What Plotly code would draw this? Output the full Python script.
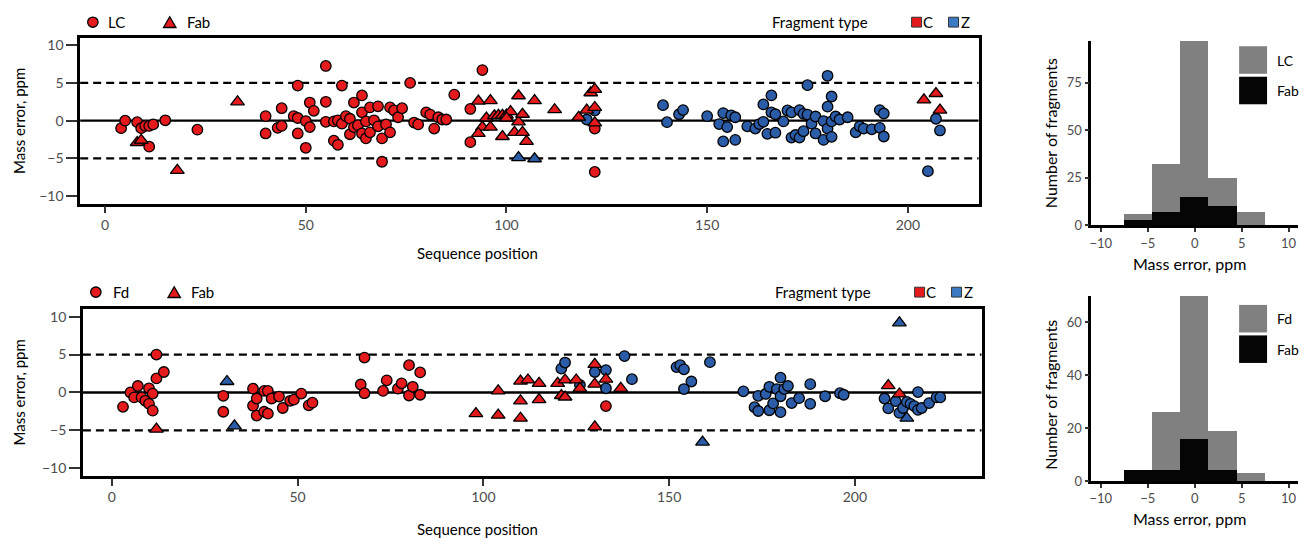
import plotly.graph_objects as go

W, H = 1310, 547
RED = "#E41A1C"
BLUE = "#2B5CA8"
BLUE_KEY = "#3B7BC4"
FONT = "Lato, 'Noto Sans', sans-serif"
TICKGREY = "#4d4d4d"

# ---------------- data: top panel (LC / Fab) ----------------
lc_c_pos = [4, 5, 8, 9, 10, 11, 12, 11, 15, 23, 40, 40, 43, 44, 44, 47, 48, 48, 48, 50, 50, 51, 51, 52,
            55, 55, 55, 57, 58, 57, 58, 59, 59, 60, 61, 61, 62, 62, 63, 64, 64, 64, 65, 65, 66, 66, 67,
            68, 68, 69, 69, 70, 71, 71, 72, 73, 74, 76, 77, 78, 80, 81, 82, 83, 84, 85, 87, 91, 91, 94,
            122, 122]
lc_c_err = [-1.0, 0.0, -0.2, -1.0, -0.7, -0.7, -0.5, -3.45, 0.05, -1.2, 0.6, -1.7, -0.95, -0.7, 1.65,
            0.6, 4.65, 0.35, -1.7, -0.05, -3.6, -0.85, 2.4, 1.3, 7.25, 2.5, -0.15, -2.65, -3.2, -0.1,
            0.05, 4.65, -0.4, 0.6, 0.25, -1.8, 2.4, -0.85, -0.6, 3.35, 1.1, -1.7, -0.1, -2.35, 1.75,
            -1.55, 0.05, 1.9, -0.75, -2.35, -5.45, -0.5, 1.75, -1.55, 1.35, 0.45, 1.65, 5.0, -0.25,
            -0.5, 1.1, 0.8, -1.05, 0.45, 0.15, 0.15, 3.45, 1.55, -2.85, 6.7, -1.05, -6.8]

lc_z_pos = [120, 122, 139, 140, 143, 144, 150, 153, 154, 154, 155, 156, 157, 157, 160, 162, 163, 164,
            164, 165, 166, 166, 167, 167, 169, 170, 171, 171, 172, 173, 173, 174, 174, 175, 175, 176,
            177, 177, 179, 179, 180, 180, 180, 181, 181, 181, 182, 183, 185, 187, 188, 189, 191, 193,
            194, 193, 194, 205, 207, 208]
lc_z_err = [0.15, 1.35, 2.05, -0.2, 0.85, 1.4, 0.6, -0.45, 1.0, -2.75, -0.85, 0.7, 0.45, -2.55, -0.75,
            -1.05, -0.45, -0.15, 2.15, -1.75, 3.35, 1.1, -1.6, 0.85, -0.1, 1.35, 1.1, -2.25, -1.9,
            -2.25, 1.4, -1.4, 0.9, 4.7, 0.8, -0.4, 0.55, -1.7, -0.05, -2.55, 1.85, -1.05, 5.95, 3.2,
            -0.1, -2.15, 0.55, 0.15, 0.45, -1.55, -0.75, -1.05, -1.15, 1.4, 0.95, -0.95, -2.1, -6.7,
            0.25, -1.3]

fab1_c_pos = [8, 9, 18, 33, 93, 96, 95, 94, 93, 96, 97, 98, 99, 100, 101, 100, 99, 103, 103, 102, 104,
              104, 105, 107, 112, 118, 120, 121, 122, 122, 122, 204, 207, 208]
fab1_c_err = [-2.9, -2.6, -6.6, 2.5, 2.6, 2.65, 0.35, -0.85, -1.7, -0.85, 0.65, 0.7, 0.7, 0.75, 1.2,
              0.35, -2.1, 3.3, -0.15, -1.55, 0.85, -1.55, -2.75, 2.65, 1.45, 0.45, 1.4, 3.7, 4.15,
              1.75, -0.3, 2.75, 3.6, 1.4]

fab1_z_pos = [103, 107]
fab1_z_err = [-4.9, -5.05]

# ---------------- data: bottom panel (Fd / Fab) ----------------
fd_c_pos = [3, 5, 6, 7, 8, 9, 10, 10, 11, 11, 12, 12, 14, 30, 30, 38, 38, 39, 39, 41, 42, 41, 42, 43,
            45, 46, 48, 49, 51, 53, 54, 67, 68, 68, 73, 74, 77, 78, 80, 80, 81, 83, 83, 133]
fd_c_err = [-1.9, 0.0, -0.65, 0.85, -0.65, -1.1, 0.55, -1.5, -0.15, -2.4, 5.0, 1.85, 2.7, -0.45, -2.55,
            0.5, -1.75, -0.8, -3.05, 0.2, 0.2, -2.55, -2.8, -0.8, -0.55, -2.05, -1.1, -0.95, -0.15,
            -1.7, -1.35, 1.05, 4.6, -0.1, 0.2, 1.6, 0.5, 1.2, 3.6, -0.4, 0.75, 2.65, -0.3, -1.8]

fd_z_pos = [121, 122, 126, 130, 133, 133, 138, 140, 152, 153, 154, 156, 154, 161, 170, 173, 174, 174,
            176, 177, 177, 178, 179, 180, 180, 180, 181, 182, 183, 185, 188, 188, 192, 196, 197, 208,
            209, 211, 212, 213, 214, 215, 216, 217, 218, 217, 220, 222, 223]
fd_z_err = [3.15, 3.95, 1.0, 2.7, 2.95, 0.55, 4.8, 1.75, 3.35, 3.6, 3.05, 1.45, 0.45, 4.0, 0.15, -1.95,
            -2.45, -0.45, -0.2, 0.75, -2.35, -1.45, 0.45, 1.95, -0.5, -2.6, 0.45, 0.85, -1.4, -0.75,
            1.1, -1.5, -0.5, -0.1, -0.3, -0.8, -2.1, -1.15, -2.7, -2.05, -1.25, -1.5, -1.8, -2.3,
            -2.05, 0.05, -1.4, -0.65, -0.65]

fab2_c_pos = [12, 98, 104, 104, 110, 112, 110, 110, 115, 115, 120, 121, 122, 122, 125, 126, 130, 130,
              130, 133, 137, 209, 212]
fab2_c_err = [-4.85, -2.8, 0.2, -3.0, 1.5, 1.65, -1.1, -3.4, 1.2, -0.95, 1.2, -0.4, 1.65, -0.6, 1.65,
              0.55, 3.7, 1.1, -4.55, 1.75, 0.55, 0.9, -0.2]

fab2_z_pos = [31, 33, 159, 212, 214]
fab2_z_err = [1.45, -4.4, -6.55, 9.2, -3.4]

# ---------------- data: histograms ----------------
bin_centers = [-6, -3, 0, 3, 6]
hist1_lc = [6, 32, 97, 25, 7]
hist1_fab = [3, 7, 15, 10, 0]
hist2_fd = [4, 26, 70, 19, 3]
hist2_fab = [4, 4, 16, 4, 0]

ytick_vals = [-10, -5, 0, 5, 10]
ytick_text = ["\u221210", "\u22125", "0", "5", "10"]
xtick_vals = [0, 50, 100, 150, 200]
htick_vals = [-10, -5, 0, 5, 10]
htick_text = ["\u221210", "\u22125", "0", "5", "10"]

fig = go.Figure()


def pts(xs, ys, color, symbol, xa, ya):
    size = 10.5 if symbol == "circle" else 12
    fig.add_trace(go.Scatter(
        x=xs, y=ys, mode="markers", xaxis=xa, yaxis=ya, showlegend=False,
        marker=dict(symbol=symbol, size=size, color=color, line=dict(color="black", width=1.3)),
        cliponaxis=False))


pts(lc_c_pos, lc_c_err, RED, "circle", "x", "y")
pts(lc_z_pos, lc_z_err, BLUE, "circle", "x", "y")
pts(fab1_c_pos, fab1_c_err, RED, "triangle-up", "x", "y")
pts(fab1_z_pos, fab1_z_err, BLUE, "triangle-up", "x", "y")

pts(fd_c_pos, fd_c_err, RED, "circle", "x2", "y2")
pts(fd_z_pos, fd_z_err, BLUE, "circle", "x2", "y2")
pts(fab2_c_pos, fab2_c_err, RED, "triangle-up", "x2", "y2")
pts(fab2_z_pos, fab2_z_err, BLUE, "triangle-up", "x2", "y2")

for counts, col, xa, ya in [(hist1_lc, "#808080", "x3", "y3"), (hist1_fab, "#050505", "x3", "y3"),
                            (hist2_fd, "#808080", "x4", "y4"), (hist2_fab, "#050505", "x4", "y4")]:
    fig.add_trace(go.Bar(x=bin_centers, y=counts, width=3, marker=dict(color=col, line=dict(width=0)),
                         opacity=1, xaxis=xa, yaxis=ya, showlegend=False))


def px(v):
    return v / W


def py(v):
    return 1 - v / H


scatter_x = dict(showline=True, mirror=True, linewidth=2.6, linecolor="black", ticks="outside",
                 ticklen=7, tickwidth=2, tickcolor="#333333", showgrid=False, zeroline=False,
                 tickvals=xtick_vals, tickfont=dict(family=FONT, size=14, color=TICKGREY))
scatter_y = dict(showline=True, mirror=True, linewidth=2.6, linecolor="black", ticks="outside",
                 ticklen=11, tickwidth=2, tickcolor="#333333", showgrid=False, zeroline=False,
                 range=[-11, 11], tickvals=ytick_vals, ticktext=ytick_text,
                 tickfont=dict(family=FONT, size=14, color=TICKGREY))
hist_x = dict(showline=True, linewidth=2.6, linecolor="black", ticks="outside", ticklen=4, tickwidth=1.5,
              tickcolor="#333333", showgrid=False, zeroline=False, range=[-11, 11],
              tickvals=htick_vals, ticktext=htick_text, tickfont=dict(family=FONT, size=13, color=TICKGREY))
hist_y = dict(showline=True, linewidth=2.6, linecolor="black", ticks="outside", ticklen=4, tickwidth=1.5,
              tickcolor="#333333", showgrid=False, zeroline=False,
              tickfont=dict(family=FONT, size=13, color=TICKGREY))

fig.update_layout(
    width=W, height=H, autosize=False, margin=dict(l=0, r=0, t=0, b=0),
    paper_bgcolor="white", plot_bgcolor="rgba(0,0,0,0)", barmode="overlay", bargap=0,
    font=dict(family=FONT, size=15, color="black"),
    xaxis=dict(scatter_x, domain=[px(78.3), px(978)], range=[-6.2, 217.6], anchor="y"),
    yaxis=dict(scatter_y, domain=[py(206), py(37.3)], anchor="x"),
    xaxis2=dict(scatter_x, domain=[px(81), px(981)], range=[-7.8, 234.1], anchor="y2"),
    yaxis2=dict(scatter_y, domain=[py(482.7), py(313.3)], anchor="x2"),
    xaxis3=dict(hist_x, domain=[px(1091), px(1298)], anchor="y3"),
    yaxis3=dict(hist_y, domain=[py(228), py(40.7)], range=[0, 97], tickvals=[0, 25, 50, 75], anchor="x3"),
    xaxis4=dict(hist_x, domain=[px(1091), px(1298)], anchor="y4"),
    yaxis4=dict(hist_y, domain=[py(488), py(300)], range=[0, 70], tickvals=[0, 20, 40, 60], anchor="x4"),
)

shapes = []
for ya in ["y", "y2"]:
    xa = "x" if ya == "y" else "x2"
    shapes.append(dict(type="line", xref=xa + " domain", yref=ya, x0=0, x1=1, y0=0, y1=0,
                       line=dict(color="black", width=2.4), layer="below"))
    for v in (5, -5):
        shapes.append(dict(type="line", xref=xa + " domain", yref=ya, x0=0, x1=1, y0=v, y1=v,
                           line=dict(color="black", width=2.2, dash="8px,5px"), layer="below"))

annotations = []


def txt(t, x, y, size=15, anchor="left", color="black", angle=0):
    if anchor == "left":
        x -= 3
    annotations.append(dict(text=t, x=px(x), y=py(y), xref="paper", yref="paper", showarrow=False,
                            xanchor=anchor, yanchor="middle", textangle=angle,
                            font=dict(family=FONT, size=size, color=color)))


def circle_key(cx, cy, r):
    shapes.append(dict(type="circle", xref="paper", yref="paper", x0=px(cx - r), x1=px(cx + r),
                       y0=py(cy + r), y1=py(cy - r), fillcolor=RED, line=dict(color="black", width=1.3)))


def tri_key(cx, cy, s):
    h = s * 0.87
    path = "M {:.5f},{:.5f} L {:.5f},{:.5f} L {:.5f},{:.5f} Z".format(
        px(cx - s / 2), py(cy + h / 2), px(cx + s / 2), py(cy + h / 2), px(cx), py(cy - h / 2))
    shapes.append(dict(type="path", xref="paper", yref="paper", path=path, fillcolor=RED,
                       line=dict(color="black", width=1.3)))


# scatter legends
for (lab, cx, tx, trx, trt, fx, sqc, sqz, ylev) in [("LC", 91, 107, 168, 186, 772, 911, 948, 21.5),
                                                    ("Fd", 94, 112, 172.5, 190, 775, 914, 951, 296)]:
    circle_key(cx, ylev, 5.2)
    tri_key(trx, ylev, 12.5)
    txt(lab, tx, ylev)
    txt("Fab", trt, ylev)
    txt("Fragment type", fx, ylev)
    shapes.append(dict(type="rect", xref="paper", yref="paper", x0=px(sqc), x1=px(sqc + 10),
                       y0=py(ylev + 5), y1=py(ylev - 5), fillcolor=RED, line=dict(color="#333333", width=1)))
    txt("C", sqc + 12, ylev)
    shapes.append(dict(type="rect", xref="paper", yref="paper", x0=px(sqz), x1=px(sqz + 10),
                       y0=py(ylev + 5), y1=py(ylev - 5), fillcolor=BLUE_KEY, line=dict(color="#333333", width=1)))
    txt("Z", sqz + 13, ylev)

# axis titles
txt("Sequence position", 476, 256, anchor="center")
txt("Sequence position", 476, 537, anchor="center")
txt("Mass error, ppm", 17, 122, anchor="center", angle=-90)
txt("Mass error, ppm", 17, 398, anchor="center", angle=-90)
txt("Mass error, ppm", 1189, 267, size=16, anchor="center")
txt("Mass error, ppm", 1189, 526, size=16, anchor="center")
txt("Number of fragments", 1050, 134, size=16, anchor="center", angle=-90)
txt("Number of fragments", 1050, 400, size=16, anchor="center", angle=-90)

# histogram legends
for (lab, ytop) in [("LC", 46), ("Fd", 309)]:
    shapes.append(dict(type="rect", xref="paper", yref="paper", x0=px(1239), x1=px(1267),
                       y0=py(ytop + 28), y1=py(ytop), fillcolor="#808080", line=dict(width=0)))
    shapes.append(dict(type="rect", xref="paper", yref="paper", x0=px(1239), x1=px(1267),
                       y0=py(ytop + 59), y1=py(ytop + 31), fillcolor="#050505", line=dict(width=0)))
    txt(lab, 1278, ytop + 14, size=14)
    txt("Fab", 1278, ytop + 45, size=14)

fig.update_layout(shapes=shapes, annotations=annotations)
fig.write_html("out.html", config={"displayModeBar": False},
               post_script="document.body.style.margin='0';")
